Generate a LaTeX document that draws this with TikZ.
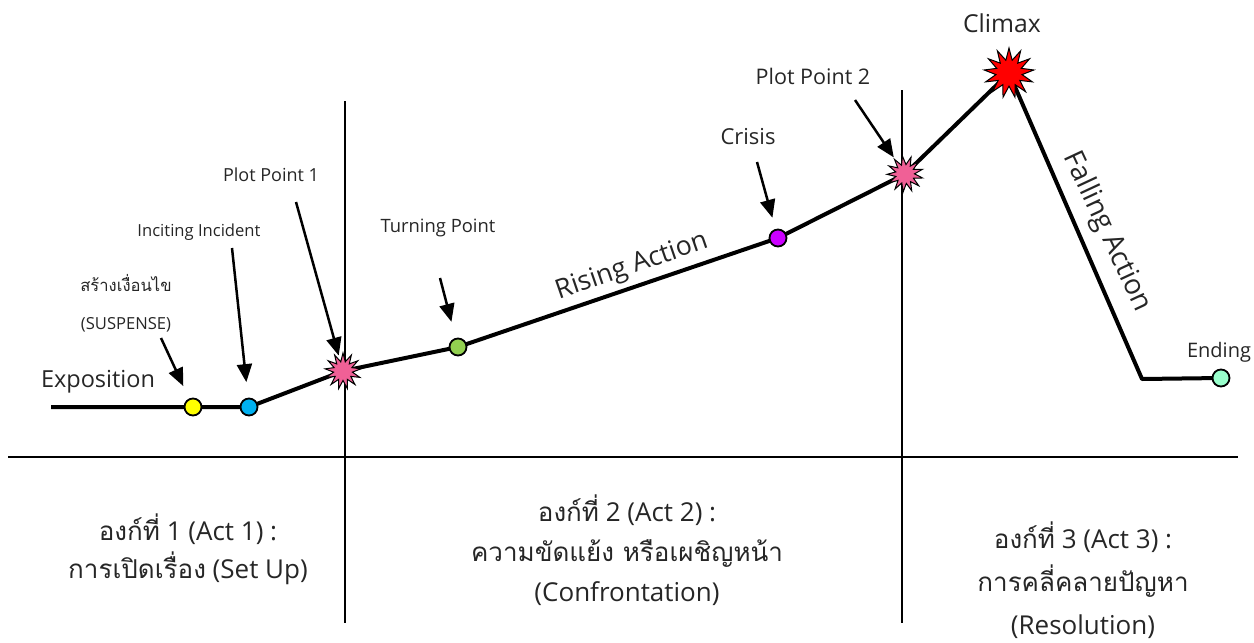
\documentclass[tikz,border=0pt]{standalone}
\usepackage{fontspec}
\setmainfont{Open Sans}
\newfontfamily\thaifont[Script=Thai]{Loma}
\usetikzlibrary{positioning,arrows.meta,shapes.geometric,backgrounds}
\definecolor{ppink}{RGB}{240,96,150}
\definecolor{cyel}{RGB}{255,255,0}
\definecolor{cblue}{RGB}{0,176,240}
\definecolor{cgreen}{RGB}{146,208,80}
\definecolor{cpurple}{RGB}{204,0,255}
\definecolor{cmint}{RGB}{153,255,204}
\tikzset{
  plotln/.style={line width=4pt,line join=round},
  actln/.style={line width=1.8pt},
  pointer/.style={-{Triangle[length=18pt,width=15pt]},line width=2.5pt},
  beat/.style={circle,draw=black,line width=1.8pt,minimum size=17pt,inner sep=0pt},
  burst/.style={star,star points=13,star point ratio=1.9,draw=black,line width=1pt,
    minimum size=36pt,inner sep=0pt,fill=ppink},
  lbl/.style={font=\fontsize{#1}{#1}\selectfont,text=black!85,inner sep=1pt},
  lbl/.default=16.6,
  actlbl/.style={text=black!85,align=center,inner sep=0pt},
}
\begin{document}
\begin{tikzpicture}[x=1pt,y=-1pt]
  \useasboundingbox (0,0) rectangle (1254,643);
  % act dividers
  \coordinate (hL) at (8,457);   \coordinate (hR) at (1238,457);
  \coordinate (v1t) at (345,101); \coordinate (v1b) at (345,623);
  \coordinate (v2t) at (902,90);  \coordinate (v2b) at (902,623);
  \draw[actln] (hL) -- (hR);
  \draw[actln] (v1t) -- (v1b);
  \draw[actln] (v2t) -- (v2b);
  % story beats
  \coordinate (start) at (51,407);
  \node[beat,fill=cyel] (sus) at (193,407) {};
  \node[beat,fill=cblue] (inc) at (249,407) {};
  \node[burst] (pp1) at (343,371) {};
  \node[beat,fill=cgreen] (turn) at (458,347) {};
  \node[beat,fill=cpurple] (crisis) at (778,238) {};
  \node[burst,rotate=8] (pp2) at (905,174) {};
  \node[burst,fill=red,minimum size=50pt] (climax) at (1009,73) {};
  \coordinate (corner) at (1142,379);
  \node[beat,fill=cmint] (ending) at (1221,378) {};
  \begin{scope}[on background layer]
    \draw[plotln] (start) -- (sus.center) -- (inc.center) -- (pp1.center) -- (turn.center)
      -- (crisis.center) -- (pp2.center) -- (climax.center) -- (corner) -- (ending.center);
  \end{scope}
  % labels
  \node[lbl=23.5] (lExpo) at (98,382) {Exposition};
  \node[lbl] (lSusTh) at (126,283) {\thaifont สร้างเงื่อนไข};
  \node[lbl] (lSus) at (126,325) {(SUSPENSE)};
  \node[lbl] (lInc) at (199,232) {Inciting Incident};
  \node[lbl=18] (lPP1) at (271,175) {Plot Point 1};
  \node[lbl=18.4] (lTurn) at (438,228) {Turning Point};
  \node[lbl=22] (lCrisis) at (748,137) {Crisis};
  \node[lbl=21.5] (lPP2) at (813,76) {Plot Point 2};
  \node[lbl=24.7] (lClimax) at (1002,23) {Climax};
  \node[lbl=20] (lEnd) at (1219,352) {Ending};
  \node[lbl=26.7,rotate=19] (lRise) at (632,267) {Rising Action};
  \node[lbl=28,rotate=-65] (lFall) at (1107,232) {Falling Action};
  % pointers
  \coordinate (tSus) at (161,338);
  \coordinate (tInc) at (232,248);
  \coordinate (tPP1) at (296,202);
  \coordinate (tTurn) at (440,278);
  \coordinate (tCrisis) at (757,162);
  \coordinate (tPP2) at (855,100);
  \draw[pointer,shorten >=23pt] (tSus) -- (sus.center);
  \draw[pointer,shorten >=25pt] (tInc) -- (inc.center);
  \draw[pointer,shorten >=16pt] (tPP1) -- (pp1.center);
  \draw[pointer,shorten >=26pt] (tTurn) -- (turn.center);
  \draw[pointer,shorten >=21pt] (tCrisis) -- (crisis.center);
  \draw[pointer,shorten >=20pt] (tPP2) -- (pp2.center);
  % acts
  \node[actlbl,font=\fontsize{26}{38}\selectfont] (act1) at (188,549)
    {{\thaifont องก์ที่} 1 (Act 1) :\\{\thaifont การเปิดเรื่อง} (Set Up)};
  \node[actlbl,font=\fontsize{26}{40}\selectfont] (act2) at (627,550)
    {{\thaifont องก์ที่} 2 (Act 2) :\\{\thaifont ความขัดแย้ง หรือเผชิญหน้า}\\(Confrontation)};
  \node[actlbl,font=\fontsize{26}{43}\selectfont] (act3) at (1083,580)
    {{\thaifont องก์ที่} 3 (Act 3) :\\{\thaifont การคลี่คลายปัญหา}\\(Resolution)};
\end{tikzpicture}
\end{document}
